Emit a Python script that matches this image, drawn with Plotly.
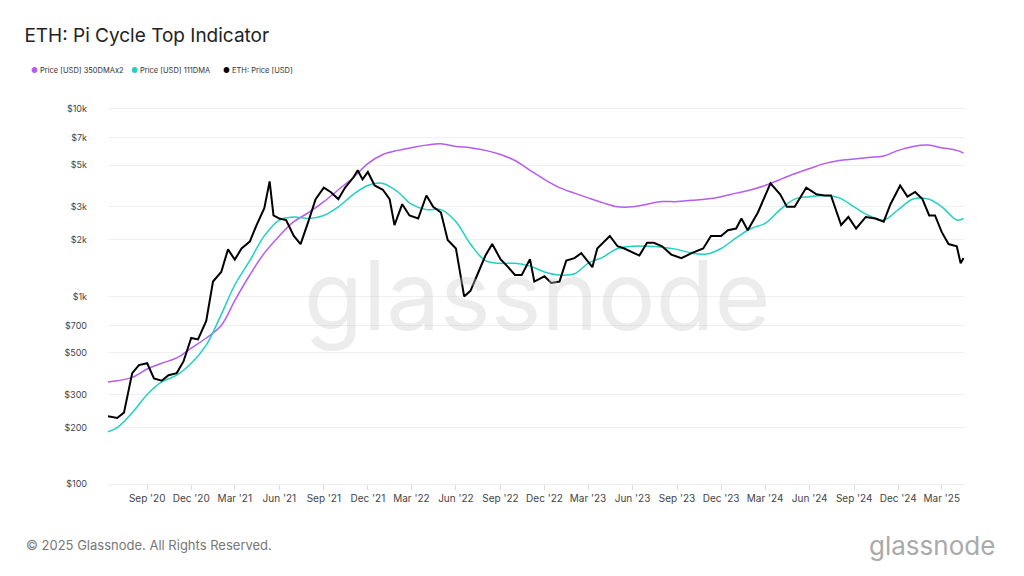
import plotly.graph_objects as go

price_dates = ["2020-06-12", "2020-07-01", "2020-07-15", "2020-08-01", "2020-08-15", "2020-09-01", "2020-09-15",
               "2020-10-01", "2020-10-15", "2020-11-01", "2020-11-15", "2020-12-01", "2020-12-15",
               "2021-01-01", "2021-01-15", "2021-02-01", "2021-02-15", "2021-03-01", "2021-03-15", "2021-04-01",
               "2021-04-15", "2021-05-01", "2021-05-12", "2021-05-20", "2021-06-01", "2021-06-15", "2021-07-01",
               "2021-07-15", "2021-08-01", "2021-08-15", "2021-09-01", "2021-09-15", "2021-10-01", "2021-10-15",
               "2021-11-01", "2021-11-10", "2021-11-20", "2021-12-01", "2021-12-15",
               "2022-01-01", "2022-01-15", "2022-01-25", "2022-02-10", "2022-02-25", "2022-03-15", "2022-04-01",
               "2022-04-15", "2022-05-01", "2022-05-15", "2022-06-01", "2022-06-18", "2022-07-01", "2022-07-15",
               "2022-08-01", "2022-08-15", "2022-09-01", "2022-09-15", "2022-10-01", "2022-10-15", "2022-11-01",
               "2022-11-10", "2022-12-01", "2022-12-15",
               "2023-01-01", "2023-01-15", "2023-02-01", "2023-02-15", "2023-03-10", "2023-03-20", "2023-04-15",
               "2023-05-01", "2023-05-15", "2023-06-15", "2023-07-01", "2023-07-15", "2023-08-01", "2023-08-20",
               "2023-09-10", "2023-10-01", "2023-10-25", "2023-11-10", "2023-12-01", "2023-12-15",
               "2024-01-01", "2024-01-12", "2024-01-25", "2024-02-15", "2024-03-01", "2024-03-12", "2024-04-01",
               "2024-04-15", "2024-05-01", "2024-05-25", "2024-06-15", "2024-07-01", "2024-07-15", "2024-08-05",
               "2024-08-20", "2024-09-05", "2024-09-25", "2024-10-15", "2024-11-01", "2024-11-15", "2024-12-05",
               "2024-12-20", "2025-01-05", "2025-01-20", "2025-02-03", "2025-02-15", "2025-03-01", "2025-03-15",
               "2025-04-01", "2025-04-09", "2025-04-15"]
price = [230, 225, 240, 390, 430, 440, 365,
         355, 380, 390, 450, 600, 590,
         740, 1200, 1350, 1780, 1570, 1800, 1960,
         2400, 2950, 4100, 2700, 2600, 2550, 2100,
         1900, 2550, 3300, 3800, 3600, 3300, 3800,
         4300, 4700, 4200, 4600, 3900,
         3700, 3300, 2400, 3100, 2700, 2600, 3450,
         3000, 2800, 2000, 1800, 1000, 1070, 1300,
         1650, 1900, 1580, 1450, 1300, 1300, 1580,
         1200, 1280, 1180,
         1200, 1550, 1600, 1700, 1430, 1800, 2100,
         1850, 1800, 1650, 1930, 1930, 1850, 1670,
         1600, 1700, 1800, 2100, 2100, 2250,
         2300, 2600, 2250, 2800, 3400, 4000, 3500,
         3000, 3000, 3800, 3500, 3450, 3450, 2400,
         2650, 2300, 2650, 2600, 2500, 3100, 3900,
         3400, 3600, 3300, 2700, 2700, 2200, 1900,
         1850, 1500, 1600]

ma_dates = ["2020-06-12", "2020-07-01", "2020-08-01", "2020-09-01", "2020-10-01", "2020-11-01", "2020-12-01",
            "2021-01-01", "2021-02-01", "2021-03-01", "2021-04-01", "2021-05-01", "2021-06-01", "2021-07-01",
            "2021-08-01", "2021-09-01", "2021-10-01", "2021-11-01", "2021-12-01",
            "2022-01-01", "2022-02-01", "2022-03-01", "2022-04-01", "2022-05-01", "2022-06-01", "2022-07-01",
            "2022-08-01", "2022-09-01", "2022-10-01", "2022-11-01", "2022-12-01",
            "2023-01-01", "2023-02-01", "2023-03-01", "2023-04-01", "2023-05-01", "2023-06-01", "2023-07-01",
            "2023-08-01", "2023-09-01", "2023-10-01", "2023-11-01", "2023-12-01",
            "2024-01-01", "2024-02-01", "2024-03-01", "2024-04-01", "2024-05-01", "2024-06-01", "2024-07-01",
            "2024-08-01", "2024-09-01", "2024-10-01", "2024-11-01", "2024-12-01",
            "2025-01-01", "2025-02-01", "2025-03-01", "2025-04-01", "2025-04-15"]
dma111 = [190, 200, 240, 300, 350, 380, 440,
          550, 800, 1150, 1550, 2100, 2550, 2650,
          2600, 2700, 3000, 3500, 3900,
          4000, 3600, 3100, 2900, 2900, 2500, 1900,
          1550, 1500, 1500, 1450, 1350,
          1300, 1320, 1500, 1620, 1800, 1850, 1850,
          1830, 1780, 1700, 1680, 1800,
          2050, 2300, 2450, 2900, 3300, 3400, 3450,
          3350, 3000, 2700, 2550, 2900,
          3300, 3300, 3000, 2550, 2600]
dma350x2 = [350, 355, 370, 410, 440, 470, 530,
            600, 700, 950, 1300, 1700, 2100, 2500,
            2800, 3200, 3700, 4300, 5100,
            5700, 6000, 6200, 6400, 6500, 6300, 6200,
            6000, 5700, 5300, 4700, 4200,
            3800, 3550, 3350, 3150, 3000, 3000, 3100,
            3200, 3200, 3250, 3300, 3400,
            3550, 3700, 3900, 4200, 4500, 4800, 5100,
            5300, 5400, 5500, 5600, 6000,
            6300, 6400, 6200, 6000, 5800]

y_ticks = [100, 200, 300, 500, 700, 1000, 2000, 3000, 5000, 7000, 10000]
y_labels = ["$100", "$200", "$300", "$500", "$700", "$1k", "$2k", "$3k", "$5k", "$7k", "$10k"]
x_ticks = ["2020-09-01", "2020-12-01", "2021-03-01", "2021-06-01", "2021-09-01", "2021-12-01", "2022-03-01",
           "2022-06-01", "2022-09-01", "2022-12-01", "2023-03-01", "2023-06-01", "2023-09-01", "2023-12-01",
           "2024-03-01", "2024-06-01", "2024-09-01", "2024-12-01", "2025-03-01"]
x_labels = ["Sep '20", "Dec '20", "Mar '21", "Jun '21", "Sep '21", "Dec '21", "Mar '22", "Jun '22", "Sep '22",
            "Dec '22", "Mar '23", "Jun '23", "Sep '23", "Dec '23", "Mar '24", "Jun '24", "Sep '24", "Dec '24",
            "Mar '25"]

series = [
    ("Price [USD] 350DMAx2", ma_dates, dma350x2, "#b65cf2", 1.5),
    ("Price [USD] 111DMA", ma_dates, dma111, "#1fd1c1", 1.5),
    ("ETH: Price [USD]", price_dates, price, "black", 2),
]

fig = go.Figure()
for name, xs, ys, color, w in series:
    fig.add_trace(go.Scatter(x=xs, y=ys, mode="lines", name=name,
                             line=dict(color=color, width=w, shape="spline" if w < 2 else "linear")))

# legend as coloured dots + text, packed tightly like the original
legend_x = [21, 121, 213]
for (name, xs, ys, color, w), px in zip(series, legend_x):
    fig.add_annotation(text='<span style="color:%s">●</span> %s' % (color, name),
                       x=(px - 100) / 857, y=1.092, xref="paper", yref="paper", xanchor="left",
                       yanchor="middle", showarrow=False, font=dict(size=7.5, color="#333"))

fig.update_layout(
    width=1024, height=576, plot_bgcolor="white", paper_bgcolor="white",
    font=dict(family="Inter", color="#333"), showlegend=False,
    margin=dict(l=100, r=67, t=97, b=100, autoexpand=False),
    title=dict(text="ETH: Pi Cycle Top Indicator", x=0.016, y=0.953, xanchor="left", yanchor="middle",
               yref="container", font=dict(size=19, color="#222")),
)
fig.update_xaxes(range=["2020-06-12", "2025-04-18"], tickvals=x_ticks, ticktext=x_labels,
                 showgrid=False, ticks="outside", ticklen=5, tickcolor="#ddd",
                 showline=True, linecolor="#eee", tickfont=dict(size=10, color="#444"))
fig.update_yaxes(type="log", range=[2, 4.02], tickvals=y_ticks, ticktext=y_labels, automargin=False,
                 gridcolor="#f0f0f0", zeroline=False, tickfont=dict(size=9, color="#444"), ticklabelstandoff=20)
fig.add_annotation(text="glassnode", x=0.5, y=0.5, xref="paper", yref="paper", showarrow=False,
                   font=dict(size=96, color="rgba(200,200,200,0.35)", family="Inter"))
fig.add_annotation(text="© 2025 Glassnode. All Rights Reserved.", x=-0.098, y=-0.161, xref="paper", yref="paper",
                   xanchor="left", yanchor="middle", showarrow=False, font=dict(size=13, color="#777"))
fig.add_annotation(text="glassnode", x=1.037, y=-0.161, xref="paper", yref="paper", xanchor="right",
                   yanchor="middle", showarrow=False, font=dict(size=26, color="#aaa"))
fig.write_html("out.html")
